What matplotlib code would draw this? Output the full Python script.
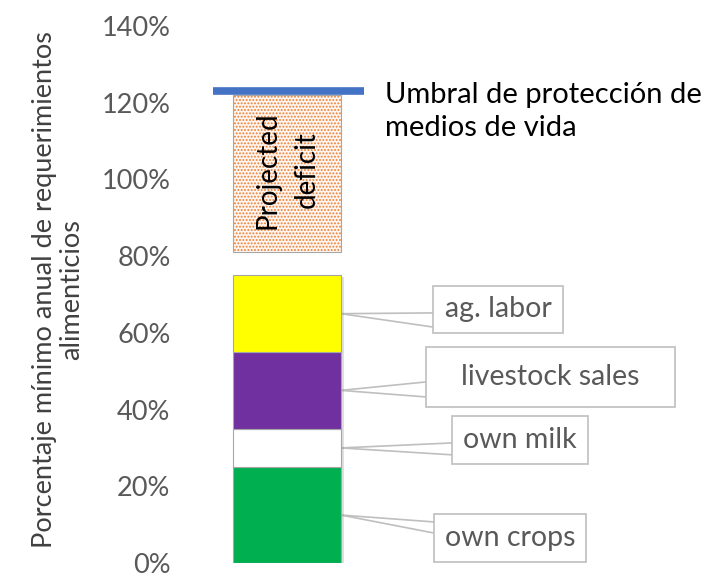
import matplotlib.pyplot as plt
from matplotlib.patches import Rectangle
from matplotlib.ticker import FuncFormatter
import matplotlib.patheffects as pe

plt.rcParams['font.family'] = ['Lato', 'DejaVu Sans']

# stacked sources (% of annual minimum food needs)
sources = ["own crops", "own milk", "livestock sales", "ag. labor"]
shares = [25, 10, 20, 20]
colors = ["#00b050", "#ffffff", "#7030a0", "#ffff00"]

deficit_bottom = 81
deficit_top = 122
threshold = 123

yticks = [0, 20, 40, 60, 80, 100, 120, 140]

# callout boxes: (x0, x1, y0, y1, attach_y_hi, attach_y_lo) in data units
boxes = {
    "ag. labor": (0.95, 1.79, 60.0, 72.2, 65.2, 61.5),
    "livestock sales": (0.90, 2.52, 40.7, 56.3, 47.2, 43.3),
    "own milk": (1.07, 1.95, 25.8, 38.3, 31.3, 28.2),
    "own crops": (0.955, 1.94, 0.3, 12.8, 10.7, 7.8),
}

fig = plt.figure(figsize=(7.11, 5.76), dpi=100)
ax = fig.add_axes([190 / 711, 13 / 576, 510 / 711, 537 / 576])

bar_w = 0.7
shadow = [pe.SimplePatchShadow(offset=(2, -1), alpha=0.25, shadow_rgbFace="gray"), pe.Normal()]
bottom = 0
for name, val, c in zip(sources, shares, colors):
    ax.bar(0, val, bottom=bottom, width=bar_w, color=c, edgecolor="#a6a6a6",
           linewidth=0.8, zorder=3, path_effects=shadow)
    bottom += val

# projected deficit (dotted orange)
plt.rcParams['hatch.linewidth'] = 0.9
ax.bar(0, deficit_top - deficit_bottom, bottom=deficit_bottom, width=bar_w,
       color="#fdf5ef", edgecolor="#ed7d31", hatch=".....", linewidth=0, zorder=3)
ax.bar(0, deficit_top - deficit_bottom, bottom=deficit_bottom, width=bar_w,
       fill=False, edgecolor="#a6a6a6", linewidth=0.8, zorder=4)
ax.text(0, (deficit_bottom + deficit_top) / 2 + 1, "Projected\ndeficit", rotation=90,
        ha="center", va="center", multialignment="center", fontsize=20,
        color="black", zorder=5, linespacing=1.6)

# threshold line
ax.plot([-0.48, 0.50], [threshold, threshold], color="#4472c4", linewidth=5.5,
        solid_capstyle="butt", zorder=6)
ax.text(0.635, threshold + 2.5, "Umbral de protección de\nmedios de vida",
        ha="left", va="top", fontsize=21, color="black", linespacing=1.35)

# callouts
mids = {}
b = 0
for name, val in zip(sources, shares):
    mids[name] = b + val / 2
    b += val
for name, (x0, x1, y0, y1, ah, al) in boxes.items():
    ax.add_patch(Rectangle((x0, y0), x1 - x0, y1 - y0, facecolor="white",
                           edgecolor="#bfbfbf", linewidth=1.2, zorder=3,
                           clip_on=False))
    ax.text((x0 + x1) / 2, (y0 + y1) / 2, name, ha="center", va="center",
            fontsize=20.5, color="#595959", zorder=4)
    for ay in (ah, al):
        ax.plot([bar_w / 2, x0], [mids[name], ay], color="#bfbfbf",
                linewidth=1.2, zorder=2, clip_on=False)

ax.set_xlim(-0.63, 2.68)
ax.set_ylim(0, 140)
ax.set_yticks(yticks)
ax.yaxis.set_major_formatter(FuncFormatter(lambda v, p: f"{v:.0f}%"))
ax.tick_params(axis="y", length=0, labelsize=19.5, labelcolor="#595959", pad=14)
ax.set_xticks([])
for s in ax.spines.values():
    s.set_visible(False)
ax.set_ylabel("Porcentaje mínimo anual de requerimientos\nalimenticios",
              fontsize=19.5, color="#404040", linespacing=1.1)
ax.yaxis.set_label_coords(-0.208, 0.51)

fig.savefig("out.png", dpi=100)
